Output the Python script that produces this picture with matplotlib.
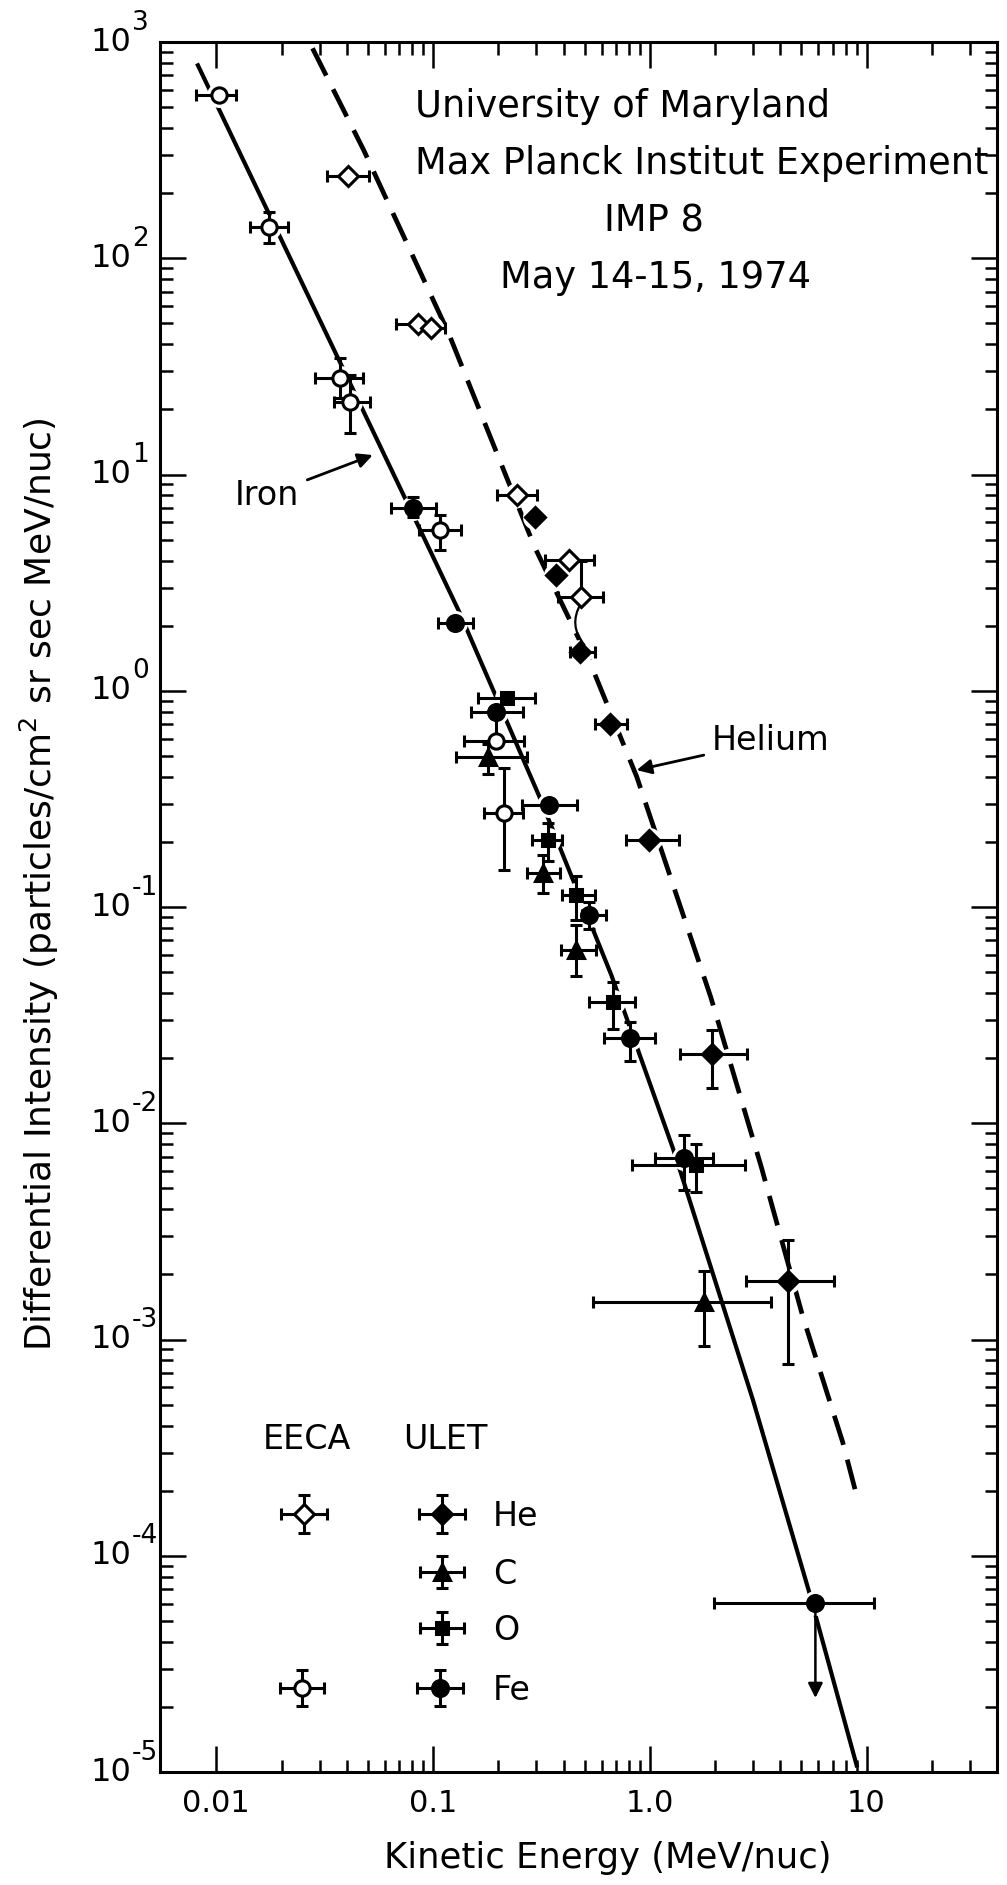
import numpy as np
import matplotlib
matplotlib.use("Agg")
import matplotlib.pyplot as plt
from matplotlib.ticker import FixedLocator, NullFormatter

plt.rcParams["font.family"] = ["DejaVu Sans"]
plt.rcParams["mathtext.fontset"] = "dejavusans"
plt.rcParams["lines.scale_dashes"] = False

# ---------------- measurements (MeV/nuc, particles/cm2 sr sec MeV/nuc) ----------------
# EECA helium (open diamonds)
eeca_he_E = [0.0407, 0.0851, 0.098, 0.2444, 0.422, 0.480]
eeca_he_I = [240, 49.7, 47.4, 8.03, 4.02, 2.70]
eeca_he_Elo = [0.0325, 0.0676, 0.085, 0.198, 0.327, 0.378]
eeca_he_Ehi = [0.0508, 0.098, 0.114, 0.302, 0.554, 0.608]
eeca_he_Ilo = [240, 49.7, 47.4, 8.03, 4.02, 2.70]
eeca_he_Ihi = [240, 49.7, 47.4, 8.03, 4.02, 4.0]

# EECA iron (open circles)
eeca_fe_E = [0.0103, 0.0176, 0.0373, 0.0416, 0.1076, 0.196, 0.2124]
eeca_fe_I = [569, 140, 27.8, 21.7, 5.53, 0.586, 0.2724]
eeca_fe_Elo = [0.0081, 0.01426, 0.0284, 0.0351, 0.0863, 0.139, 0.1726]
eeca_fe_Ehi = [0.0123, 0.0214, 0.0477, 0.0513, 0.134, 0.262, 0.260]
eeca_fe_Ilo = [569, 118, 22.5, 15.5, 4.47, 0.586, 0.148]
eeca_fe_Ihi = [569, 163, 34.4, 28.9, 6.48, 0.75, 0.437]

# ULET helium (filled diamonds)
ulet_he_E = [0.297, 0.368, 0.4756, 0.653, 0.987, 1.928, 4.32]
ulet_he_I = [6.37, 3.42, 1.51, 0.70, 0.205, 0.0208, 0.001866]
ulet_he_Elo = [0.297, 0.368, 0.43, 0.557, 0.777, 1.38, 2.77]
ulet_he_Ehi = [0.297, 0.368, 0.56, 0.783, 1.36, 2.81, 7.06]
ulet_he_Ilo = [6.37, 3.42, 1.51, 0.70, 0.205, 0.0145, 0.000774]
ulet_he_Ihi = [6.37, 3.42, 1.51, 0.70, 0.205, 0.0269, 0.0029]

# ULET carbon (filled triangles)
ulet_c_E = [0.1786, 0.321, 0.458, 1.77]
ulet_c_I = [0.4945, 0.1429, 0.0630, 0.00149]
ulet_c_Elo = [0.127, 0.272, 0.391, 0.545]
ulet_c_Ehi = [0.272, 0.3866, 0.562, 3.64]
ulet_c_Ilo = [0.414, 0.1156, 0.0478, 0.000933]
ulet_c_Ihi = [0.57, 0.174, 0.0824, 0.00208]

# ULET oxygen (filled squares)
ulet_o_E = [0.2188, 0.3405, 0.459, 0.679, 1.634]
ulet_o_I = [0.921, 0.2037, 0.1134, 0.0364, 0.0064]
ulet_o_Elo = [0.1607, 0.286, 0.392, 0.522, 0.827]
ulet_o_Ehi = [0.297, 0.393, 0.561, 0.854, 2.75]
ulet_o_Ilo = [0.921, 0.164, 0.0869, 0.0274, 0.00481]
ulet_o_Ihi = [0.921, 0.245, 0.139, 0.0451, 0.00805]

# ULET iron (filled circles); the last one is an upper limit
ulet_fe_E = [0.081, 0.1269, 0.1953, 0.3424, 0.525, 0.814, 1.443, 5.81]
ulet_fe_I = [6.97, 2.06, 0.794, 0.2957, 0.0917, 0.0249, 0.00694, 6.04e-5]
ulet_fe_Elo = [0.064, 0.1054, 0.149, 0.258, 0.485, 0.614, 1.055, 1.97]
ulet_fe_Ehi = [0.1028, 0.1525, 0.261, 0.460, 0.625, 1.06, 1.96, 10.8]
ulet_fe_Ilo = [6.38, 2.06, 0.794, 0.2957, 0.0795, 0.0195, 0.0049, 6.04e-5]
ulet_fe_Ihi = [7.88, 2.06, 0.794, 0.2957, 0.106, 0.0295, 0.0088, 6.04e-5]
ulet_fe_limit_tip = 2.2e-5

# hand-drawn spectral curves
iron_fit_E = [0.00815, 0.0904, 0.132, 0.31, 0.665, 1.28, 1.51, 2.995, 5.41, 9.06]
iron_fit_I = [796, 5.15, 2.32, 0.323, 0.0484, 0.00764, 0.00456, 5.24e-4, 6.92e-5, 1.05e-5]
helium_fit_E = [0.0278, 0.0479, 0.118, 0.294, 0.524, 0.871, 1.91, 3.27, 5.09, 7.76, 9.04]
helium_fit_I = [935, 316, 45, 4.63, 1.39, 0.40, 0.0384, 0.00628, 0.00127, 3.36e-4, 1.87e-4]

x_major = [0.01, 0.1, 1.0, 10.0]
x_major_labels = ["0.01", "0.1", "1.0", "10"]
y_exponents = [3, 2, 1, 0, -1, -2, -3, -4, -5]

# ---------------- figure ----------------
W, H = 1007, 1885
fig = plt.figure(figsize=(W / 100, H / 100), dpi=100)
ax = fig.add_axes([160 / W, 1 - 1772 / H, 837 / W, 1730 / H])
ax.set_xscale("log")
ax.set_yscale("log")
ax.set_xlim(0.0055, 40)
ax.set_ylim(1e-5, 1e3)

for s in ax.spines.values():
    s.set_linewidth(2.2)

# curves
ax.plot(iron_fit_E, iron_fit_I, color="k", lw=3.0, solid_capstyle="butt",
        solid_joinstyle="round", zorder=1)
ax.plot(helium_fit_E, helium_fit_I, color="k", lw=3.4, dashes=(22, 11),
        dash_capstyle="butt", zorder=1)

# white clearing around plotted points
all_E = eeca_he_E + eeca_fe_E + ulet_he_E + ulet_c_E + ulet_o_E + ulet_fe_E
all_I = eeca_he_I + eeca_fe_I + ulet_he_I + ulet_c_I + ulet_o_I + ulet_fe_I
ax.plot(all_E, all_I, "o", ms=18, color="white", mec="none", zorder=2, ls="none")

EB = dict(ecolor="k", elinewidth=2.2, capsize=4, capthick=2.2, mec="k", mew=2.2, zorder=3, ls="none")


def draw(E, I, Elo, Ehi, Ilo, Ihi, marker, face, ms):
    E, I = np.asarray(E), np.asarray(I)
    xe = [E - np.asarray(Elo), np.asarray(Ehi) - E]
    ye = [I - np.asarray(Ilo), np.asarray(Ihi) - I]
    ax.errorbar(E, I, xerr=xe, yerr=ye, fmt=marker, ms=ms, mfc=face, **EB)


draw(eeca_he_E, eeca_he_I, eeca_he_Elo, eeca_he_Ehi, eeca_he_Ilo, eeca_he_Ihi, "D", "white", 10)
draw(eeca_fe_E, eeca_fe_I, eeca_fe_Elo, eeca_fe_Ehi, eeca_fe_Ilo, eeca_fe_Ihi, "o", "white", 11)
draw(ulet_he_E, ulet_he_I, ulet_he_Elo, ulet_he_Ehi, ulet_he_Ilo, ulet_he_Ihi, "D", "k", 10)
draw(ulet_c_E, ulet_c_I, ulet_c_Elo, ulet_c_Ehi, ulet_c_Ilo, ulet_c_Ihi, "^", "k", 11)
draw(ulet_o_E, ulet_o_I, ulet_o_Elo, ulet_o_Ehi, ulet_o_Ilo, ulet_o_Ihi, "s", "k", 9)
draw(ulet_fe_E, ulet_fe_I, ulet_fe_Elo, ulet_fe_Ehi, ulet_fe_Ilo, ulet_fe_Ihi, "o", "k", 11.5)

# upper limit arrow on the highest-energy iron point
ax.annotate("", xy=(ulet_fe_E[-1], ulet_fe_limit_tip), xytext=(ulet_fe_E[-1], ulet_fe_I[-1]),
            arrowprops=dict(arrowstyle="-|>", color="k", lw=1.8, mutation_scale=22,
                            shrinkA=0, shrinkB=0), zorder=3)

# bracket joining the two helium measurements near 0.5 MeV/nuc
ax.annotate("", xy=(ulet_he_E[2] * 1.05, ulet_he_I[2] * 1.08),
            xytext=(eeca_he_E[5], eeca_he_I[5] / 1.07),
            arrowprops=dict(arrowstyle="-", color="k", lw=1.6,
                            connectionstyle="arc3,rad=0.35", shrinkA=0, shrinkB=0))

# curve labels
ax.annotate("Iron", xy=(0.0527, 12.3), xytext=(0.01717, 8.03), ha="center", va="center",
            fontsize=24, arrowprops=dict(arrowstyle="-|>", color="k", lw=2,
                                         mutation_scale=22, shrinkA=4, shrinkB=0))
ax.annotate("Helium", xy=(0.870, 0.4296), xytext=(1.936, 0.591), ha="left", va="center",
            fontsize=24, arrowprops=dict(arrowstyle="-|>", color="k", lw=2,
                                         mutation_scale=22, shrinkA=4, shrinkB=0))

# ticks
ax.xaxis.set_major_locator(FixedLocator(x_major))
ax.xaxis.set_minor_locator(FixedLocator(
    [k * 10.0 ** d for d in (-2, -1, 0) for k in range(2, 10)] + [20, 30]))
ax.xaxis.set_minor_formatter(NullFormatter())
ax.set_xticklabels(x_major_labels, fontsize=22)
ax.yaxis.set_major_locator(FixedLocator([10.0 ** e for e in y_exponents]))
ax.yaxis.set_minor_locator(FixedLocator(
    [k * 10.0 ** d for d in range(-5, 3) for k in range(2, 10)]))
ax.yaxis.set_minor_formatter(NullFormatter())
ax.set_yticklabels([])
ax.tick_params(which="both", direction="in", top=True, right=True, width=1.8, colors="k")
ax.tick_params(which="major", length=19, pad=12)
ax.tick_params(which="minor", length=9)

for e in y_exponents:
    ax.annotate("10", xy=(0, 10.0 ** e), xycoords=("axes fraction", "data"),
                xytext=(-21, 0), textcoords="offset points", ha="right", va="center",
                fontsize=23)
    ax.annotate(str(e), xy=(0, 10.0 ** e), xycoords=("axes fraction", "data"),
                xytext=(-20, 14), textcoords="offset points", ha="left", va="center",
                fontsize=19)

# axis titles
fig.text(608 / W, 1 - 1858 / H, "Kinetic Energy (MeV/nuc)", ha="center", va="center",
         fontsize=25.5)
fig.text(39 / W, 1 - 884 / H,
         r"Differential Intensity (particles/cm$^{2}$ sr sec MeV/nuc)",
         rotation=90, ha="center", va="center", fontsize=26)

# experiment heading
fig.text(415 / W, 1 - 117 / H, "University of Maryland", ha="left", va="baseline", fontsize=26.5)
fig.text(415 / W, 1 - 174 / H, "Max Planck Institut Experiment", ha="left", va="baseline",
         fontsize=26.5)
fig.text(654 / W, 1 - 232 / H, "IMP 8", ha="center", va="baseline", fontsize=26.5)
fig.text(655 / W, 1 - 288 / H, "May 14-15, 1974", ha="center", va="baseline", fontsize=26.5)

# key for the two instruments
key = fig.add_axes([0, 0, 1, 1])
key.set_xlim(0, W)
key.set_ylim(H, 0)
key.set_axis_off()
key.patch.set_alpha(0)
KB = dict(ecolor="k", elinewidth=2.2, capsize=4, capthick=2.2, mec="k", mew=2.2, ls="none")
key.text(307, 1439, "EECA", ha="center", va="center", fontsize=24)
key.text(445, 1439, "ULET", ha="center", va="center", fontsize=24)
key.errorbar(304, 1514, xerr=23, yerr=19, fmt="D", ms=10, mfc="white", **KB)
key.errorbar(302, 1688, xerr=22, yerr=18, fmt="o", ms=11, mfc="white", **KB)
key.errorbar(442, 1514, xerr=23, yerr=19, fmt="D", ms=10, mfc="k", **KB)
key.errorbar(442, 1572, xerr=22, yerr=16, fmt="^", ms=11, mfc="k", **KB)
key.errorbar(442, 1628, xerr=22, yerr=16, fmt="s", ms=9, mfc="k", **KB)
key.errorbar(440, 1688, xerr=23, yerr=18, fmt="o", ms=11.5, mfc="k", **KB)
for y, lab in [(1516, "He"), (1574, "C"), (1630, "O"), (1690, "Fe")]:
    key.text(493, y, lab, ha="left", va="center", fontsize=24)

fig.savefig("out.png", dpi=100)
